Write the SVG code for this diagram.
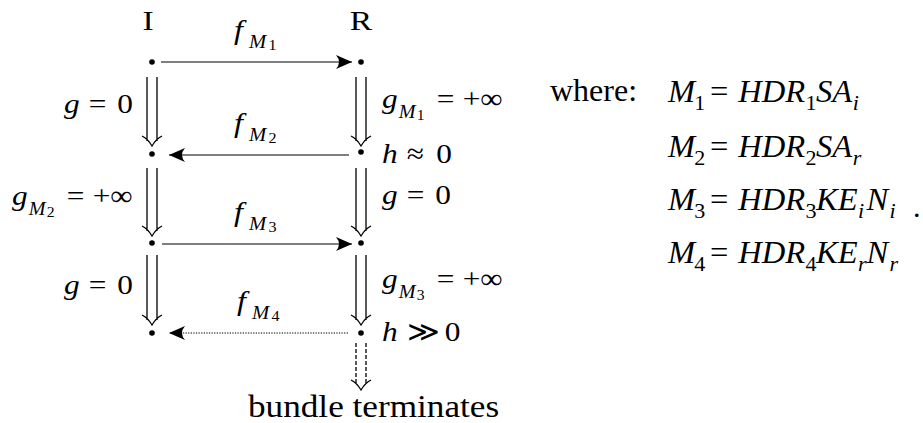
<svg xmlns="http://www.w3.org/2000/svg" width="923" height="423" viewBox="0 0 923 423">
<style>
text{font-family:"Liberation Serif","Times New Roman","DejaVu Serif",serif;fill:#000}
.t{font-size:28px}
.i{font-style:italic}
.s{font-size:18px;font-style:italic}
.n{font-size:14px}
.e{font-size:31px}
.es{font-size:21px}
.ln{stroke:#000;stroke-width:1.2;fill:none}
.dbl{stroke:#000;stroke-width:1.3;fill:none}
.dot{fill:#000}
</style>
<defs>
<marker id="ah" markerUnits="userSpaceOnUse" markerWidth="18" markerHeight="18" viewBox="0 -9 18 18" refX="16" refY="0" orient="auto">
<path d="M16,0 L0,-7 Q6,0 0,7 Z" fill="#000"/>
</marker>
</defs>

<g id="connectors">
<path class="ln" d="M161,62 H352" marker-end="url(#ah)"/>
<path class="ln" d="M349,155 H169" marker-end="url(#ah)"/>
<path class="ln" d="M162,244 H352" marker-end="url(#ah)"/>
<path class="ln" d="M348,333 H169" stroke-dasharray="1.3 1.3" marker-end="url(#ah)"/>
<path class="dbl" d="M147,77 V141 M157,77 V141 M142,136 Q148,139 152,146 Q156,139 162,136"/>
<path class="dbl" d="M147,168 V231 M157,168 V231 M142,226 Q148,229 152,236 Q156,229 162,226"/>
<path class="dbl" d="M147,255 V320 M157,255 V320 M142,315 Q148,318 152,325 Q156,318 162,315"/>
<path class="dbl" d="M356,77 V141 M366,77 V141 M351,136 Q357,139 361,146 Q365,139 371,136"/>
<path class="dbl" d="M356,168 V231 M366,168 V231 M351,226 Q357,229 361,236 Q365,229 371,226"/>
<path class="dbl" d="M356,255 V320 M366,255 V320 M351,315 Q357,318 361,325 Q365,318 371,315"/>
<path class="dbl" d="M356,343 V385 M366,343 V385" stroke-dasharray="4 2"/>
<path class="dbl" d="M351,380 Q357,383 361,390 Q365,383 371,380"/>
</g>

<g id="node-I">
<g transform="translate(148,30) scale(1.2,1)"><text class="t" x="0" y="0" text-anchor="middle">I</text></g>
<circle class="dot" cx="152" cy="62" r="2.8"/>
<circle class="dot" cx="152" cy="154" r="2.8"/>
<circle class="dot" cx="152" cy="243" r="2.8"/>
<circle class="dot" cx="152" cy="333" r="2.8"/>
</g>
<g id="node-R">
<g transform="translate(361,30) scale(1.2,1)"><text class="t" x="0" y="0" text-anchor="middle">R</text></g>
<circle class="dot" cx="361" cy="62" r="2.8"/>
<circle class="dot" cx="361" cy="152" r="2.8"/>
<circle class="dot" cx="361" cy="243" r="2.8"/>
<circle class="dot" cx="361" cy="333" r="2.8"/>
</g>

<g id="labels-f">
<g transform="translate(234,39) scale(1.15,1)"><text class="t"><tspan class="i" x="0" y="0">f</tspan><tspan class="s" x="13" y="9">M</tspan><tspan class="n" x="30" y="11">1</tspan></text></g>
<g transform="translate(234,132) scale(1.15,1)"><text class="t"><tspan class="i" x="0" y="0">f</tspan><tspan class="s" x="13" y="9">M</tspan><tspan class="n" x="30" y="11">2</tspan></text></g>
<g transform="translate(234,221) scale(1.15,1)"><text class="t"><tspan class="i" x="0" y="0">f</tspan><tspan class="s" x="13" y="9">M</tspan><tspan class="n" x="30" y="11">3</tspan></text></g>
<g transform="translate(237,310) scale(1.15,1)"><text class="t"><tspan class="i" x="0" y="0">f</tspan><tspan class="s" x="13" y="9">M</tspan><tspan class="n" x="30" y="11">4</tspan></text></g>
</g>

<g id="labels-left">
<g transform="translate(64,113) scale(1.12,1)"><text class="t"><tspan class="i" x="0" y="0">g</tspan><tspan x="22" y="0">=</tspan><tspan x="47.5" y="0">0</tspan></text></g>
<g transform="translate(12,205) scale(1.12,1)"><text class="t"><tspan class="i" x="0" y="0">g</tspan><tspan class="s" x="15" y="10">M</tspan><tspan class="n" x="31" y="12">2</tspan><tspan x="49" y="0">=</tspan><tspan x="72" y="0">+∞</tspan></text></g>
<g transform="translate(64,294) scale(1.12,1)"><text class="t"><tspan class="i" x="0" y="0">g</tspan><tspan x="22" y="0">=</tspan><tspan x="47.5" y="0">0</tspan></text></g>
</g>

<g id="labels-right">
<g transform="translate(382,108) scale(1.12,1)"><text class="t"><tspan class="i" x="0" y="0">g</tspan><tspan class="s" x="15" y="10">M</tspan><tspan class="n" x="31" y="12">1</tspan><tspan x="49" y="0">=</tspan><tspan x="72" y="0">+∞</tspan></text></g>
<g transform="translate(382,163) scale(1.12,1)"><text class="t"><tspan class="i" x="0" y="0">h</tspan><tspan x="22" y="0">≈</tspan><tspan x="48.5" y="0">0</tspan></text></g>
<g transform="translate(382,204) scale(1.12,1)"><text class="t"><tspan class="i" x="0" y="0">g</tspan><tspan x="22" y="0">=</tspan><tspan x="47.5" y="0">0</tspan></text></g>
<g transform="translate(382,288) scale(1.12,1)"><text class="t"><tspan class="i" x="0" y="0">g</tspan><tspan class="s" x="15" y="10">M</tspan><tspan class="n" x="31" y="12">3</tspan><tspan x="49" y="0">=</tspan><tspan x="72" y="0">+∞</tspan></text></g>
<g transform="translate(382,341) scale(1.12,1)"><text class="t"><tspan class="i" x="0" y="0">h</tspan><tspan x="22" y="0">≫</tspan><tspan x="56" y="0">0</tspan></text></g>
<g transform="translate(248,417) scale(1.1,1)"><text x="0" y="0" font-size="32">bundle terminates</text></g>
</g>

<g id="legend">
<text x="550" y="101" font-size="32">where:</text>
<g transform="translate(668,102) scale(1.05,1)"><text class="e"><tspan class="i" x="0" y="0">M</tspan><tspan class="es" x="25" y="8">1</tspan><tspan x="40" y="0">=</tspan><tspan class="i" x="67" y="0">HDR</tspan><tspan class="es" x="131" y="8">1</tspan><tspan class="i" x="141" y="0">SA</tspan><tspan class="es i" x="176" y="8">i</tspan></text></g>
<g transform="translate(668,157) scale(1.05,1)"><text class="e"><tspan class="i" x="0" y="0">M</tspan><tspan class="es" x="25" y="8">2</tspan><tspan x="40" y="0">=</tspan><tspan class="i" x="67" y="0">HDR</tspan><tspan class="es" x="131" y="8">2</tspan><tspan class="i" x="141" y="0">SA</tspan><tspan class="es i" x="176" y="8">r</tspan></text></g>
<g transform="translate(668,210) scale(1.05,1)"><text class="e"><tspan class="i" x="0" y="0">M</tspan><tspan class="es" x="25" y="8">3</tspan><tspan x="40" y="0">=</tspan><tspan class="i" x="67" y="0">HDR</tspan><tspan class="es" x="131" y="8">3</tspan><tspan class="i" x="141" y="0">KE</tspan><tspan class="es i" x="181" y="8">i</tspan><tspan class="i" x="189" y="0">N</tspan><tspan class="es i" x="211" y="8">i</tspan></text></g>
<text x="913" y="217" font-size="30">.</text>
<g transform="translate(668,263) scale(1.05,1)"><text class="e"><tspan class="i" x="0" y="0">M</tspan><tspan class="es" x="25" y="8">4</tspan><tspan x="40" y="0">=</tspan><tspan class="i" x="67" y="0">HDR</tspan><tspan class="es" x="131" y="8">4</tspan><tspan class="i" x="141" y="0">KE</tspan><tspan class="es i" x="181" y="8">r</tspan><tspan class="i" x="189" y="0">N</tspan><tspan class="es i" x="211" y="8">r</tspan></text></g>
</g>
</svg>
